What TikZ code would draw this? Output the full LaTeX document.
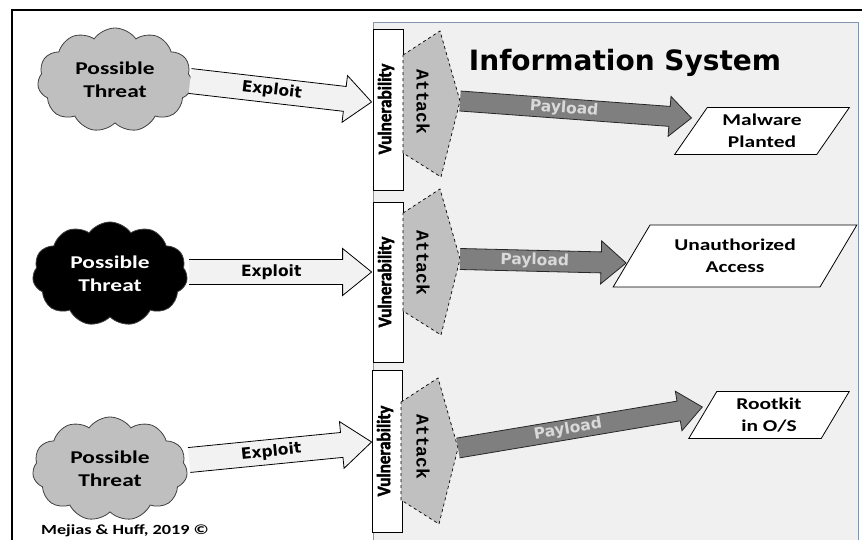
\documentclass[tikz,border=0pt]{standalone}
\usepackage{fontspec}
\setmainfont{Carlito}[FakeStretch=1.3, BoldFont={Carlito Bold}]
\newfontfamily\narrowfont{Carlito Bold}[FakeStretch=0.9, FakeBold=2]
\newfontfamily\attackfont{Liberation Mono Bold}
\newfontfamily\widefont{DejaVu Sans Bold}
\usetikzlibrary{shapes,calc}
\definecolor{sysfill}{HTML}{F0F0F0}
\definecolor{sysline}{HTML}{8194B0}
\definecolor{threatgray}{HTML}{BFBFBF}
\definecolor{exploitfill}{HTML}{F2F2F2}
\definecolor{payloadfill}{HTML}{7F7F7F}
\definecolor{attackfill}{HTML}{C0C0C0}
\tikzset{
	threat/.style     = {draw=black!75, line width=0.8, cloud, cloud puffs=11,
		cloud puff arc=110, aspect=1.5, minimum width=155, minimum height=104,
		inner sep=0, align=center, font=\fontsize{18}{23}\selectfont\bfseries},
	vuln/.style       = {draw, line width=0.8, fill=white, minimum width=30,
		minimum height=161, inner sep=0},
	vulntext/.style   = {rotate=90, inner sep=0,
		font=\narrowfont\fontsize{19}{19}\selectfont},
	attack/.style     = {draw, dashed, line width=0.7, fill=attackfill},
	attacktext/.style = {rotate=-90, inner sep=0,
		font=\attackfont\fontsize{18}{18}\selectfont},
	outcome/.style 2 args = {draw, line width=0.8, fill=white, trapezium,
		trapezium left angle=#1, trapezium right angle=#2,
		trapezium stretches=true, align=center, inner sep=0,
		font=\fontsize{16.5}{22}\selectfont\bfseries},
	exploit/.style        = {draw=black, line width=0.8, fill=exploitfill},
	exploit label/.style  = {font=\widefont\fontsize{15.5}{16}\selectfont},
	payload/.style        = {draw=black!85, line width=0.8, fill=payloadfill},
	payload label/.style  = {text=white!85!black,
		font=\widefont\fontsize{15.5}{16}\selectfont}
}
% fat block arrow: #1 kind, #2 from, #3 to, #4 half shaft, #5 half head, #6 head length, #7 label
\newcommand{\fatarrow}[7]{%
	\path ($(#3)!#6!(#2)$) coordinate (hb);
	\draw[#1] ($(#2)!#4!90:(#3)$) -- ($(hb)!#4!90:(#3)$) -- ($(hb)!#5!90:(#3)$)
		-- (#3) -- ($(hb)!#5!-90:(#3)$) -- ($(hb)!#4!-90:(#3)$) -- ($(#2)!#4!-90:(#3)$);
	\path (#2) -- node[pos=0.45, sloped, #1 label] {#7} (#3);
}
% attack shape: #1 tip name, #2 left x, #3 mid y
\newcommand{\attackshape}[3]{%
	\draw[attack] (#2,#3-49) -- (#2+37,#3-73) -- (#2+57,#3-3) coordinate (#1)
		-- (#2+38,#3+73) -- (#2,#3+49) -- cycle;
}

\begin{document}
\begin{tikzpicture}[x=1pt, y=-1pt]
	\useasboundingbox (0,0) rectangle (862,540);
	\clip (0,0) rectangle (862,540);
	% frame and system box
	\draw[line width=2] (12,10) rectangle (880,560);
	\draw[fill=sysfill, draw=sysline, line width=1] (373,23) rectangle (858,560);
	
	\draw
	node at (625,63) (title) {\widefont\fontsize{28}{28}\selectfont Information System}
	% threats
	node at (115,80)[threat, fill=threatgray] (c1) {Possible\\Threat}
	node at (110,274)[threat, fill=black, text=white] (c2) {Possible\\Threat}
	node at (110,469)[threat, fill=threatgray] (c3) {Possible\\Threat}
	% vulnerabilities
	node at (388,110)[vuln] (v1) {} node at (386,109)[vulntext] (v1t) {Vulnerability}
	node at (388,282)[vuln, minimum height=160] (v2) {} node at (386,282)[vulntext] (v2t) {Vulnerability}
	node at (387,451)[vuln, minimum height=162] (v3) {} node at (385,451)[vulntext] (v3t) {Vulnerability}
	% outcomes
	node at (762,131)[outcome={55}{125}, minimum width=175, minimum height=47] (o1) {Malware\\Planted}
	node at (735,256)[outcome={52}{128}, minimum width=244, minimum height=62] (o2) {Unauthorized\\Access}
	node at (769,415)[outcome={63}{117}, minimum width=162, minimum height=47] (o3) {Rootkit\\in O/S}
	node at (125,531) (credit) {\fontsize{14}{14}\selectfont\bfseries Mejias \& Huff, 2019 ©};
	
	% attacks
	\attackshape{t1}{403}{104}
	\attackshape{t2}{403}{262}
	\attackshape{t3}{401}{451}
	\draw
	node at (423,102)[attacktext] (a1) {Attack}
	node at (423,263)[attacktext] (a2) {Attack}
	node at (423,447)[attacktext] (a3) {Attack};
	
	% arrow ends
	\coordinate (x1s) at ($(c1.east)+(-2,1)$);
	\coordinate (x1e) at ($(v1.west)+(-1,-8)$);
	\coordinate (x2s) at ($(c2.east)+(2,-2)$);
	\coordinate (x2e) at ($(v2.west)+(-1,-10)$);
	\coordinate (x3s) at ($(c3.east)+(2,-9)$);
	\coordinate (x3e) at ($(v3.west)+(0,-9)$);
	\coordinate (p1e) at ($(o1.west)+(1,-13)$);
	\coordinate (p2e) at ($(o2.west)+(-5,7)$);
	\coordinate (p3e) at ($(o3.west)+(0,-8)$);
	
	\fatarrow{exploit}{x1s}{x1e}{12.5pt}{23.5pt}{27pt}{Exploit}
	\fatarrow{exploit}{x2s}{x2e}{12.5pt}{23.5pt}{29pt}{Exploit}
	\fatarrow{exploit}{x3s}{x3e}{12.5pt}{23.5pt}{30pt}{Exploit}
	\fatarrow{payload}{t1}{p1e}{10pt}{20pt}{22pt}{Payload}
	\fatarrow{payload}{t2}{p2e}{10.5pt}{21.5pt}{25pt}{Payload}
	\fatarrow{payload}{t3}{p3e}{10pt}{20pt}{24pt}{Payload}
\end{tikzpicture}
\end{document}
